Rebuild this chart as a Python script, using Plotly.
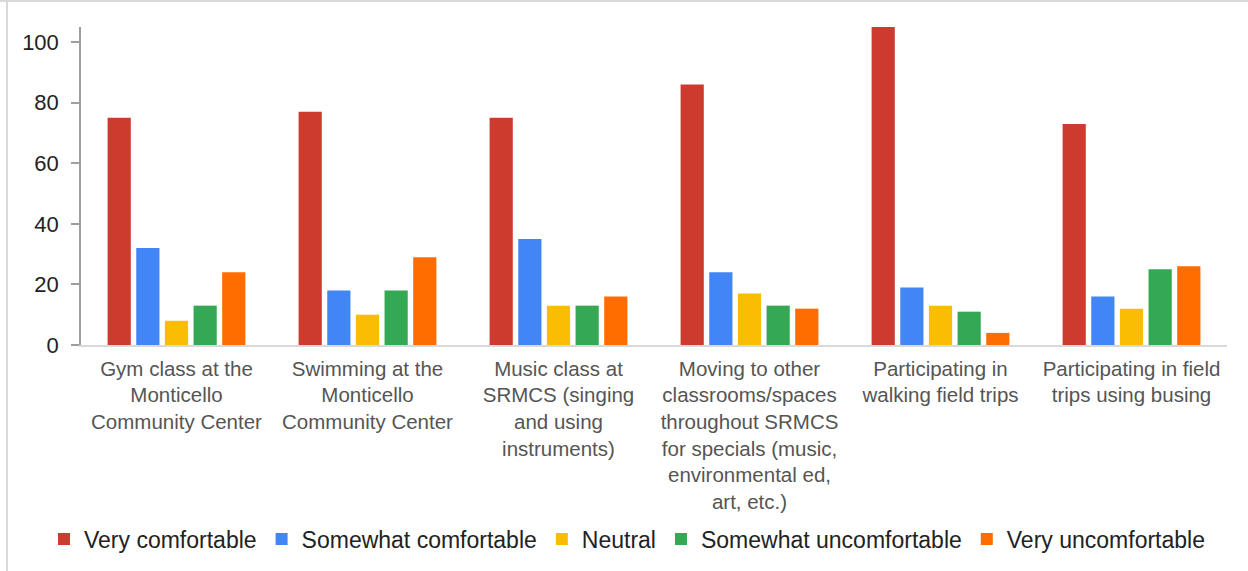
import plotly.graph_objects as go

# Survey responses: comfort level with each activity
activities = [
    "Gym class at the<br>Monticello<br>Community Center",
    "Swimming at the<br>Monticello<br>Community Center",
    "Music class at<br>SRMCS (singing<br>and using<br>instruments)",
    "Moving to other<br>classrooms/spaces<br>throughout SRMCS<br>for specials (music,<br>environmental ed,<br>art, etc.)",
    "Participating in<br>walking field trips",
    "Participating in field<br>trips using busing",
]

very_comfortable = [75, 77, 75, 86, 105, 73]
somewhat_comfortable = [32, 18, 35, 24, 19, 16]
neutral = [8, 10, 13, 17, 13, 12]
somewhat_uncomfortable = [13, 18, 13, 13, 11, 25]
very_uncomfortable = [24, 29, 16, 12, 4, 26]

series = [
    ("Very comfortable", very_comfortable, "#CD3B2F"),
    ("Somewhat comfortable", somewhat_comfortable, "#4285F4"),
    ("Neutral", neutral, "#FBBC04"),
    ("Somewhat uncomfortable", somewhat_uncomfortable, "#34A853"),
    ("Very uncomfortable", very_uncomfortable, "#FF6D01"),
]

W, H = 1248, 571
ML, MR, MT, MB = 81, 21, 27, 226
PW, PH = W - ML - MR, H - MT - MB

fig = go.Figure()
for name, vals, color in series:
    fig.add_trace(go.Bar(
        x=activities, y=vals, name=name,
        marker=dict(color=color, line=dict(width=0)),
    ))

FONT = "Arial, Liberation Sans, sans-serif"


def px_to_paper_x(px):
    return (px - ML) / PW


def px_to_paper_y(py):
    return (H - MB - py) / PH


# thin frame on the top and left edges
frame = dict(type="line", xref="paper", yref="paper",
             line=dict(color="#d9d9d9", width=2), layer="above")
shapes = [
    dict(frame, x0=px_to_paper_x(0), x1=px_to_paper_x(W),
         y0=px_to_paper_y(1), y1=px_to_paper_y(1)),
    dict(frame, x0=px_to_paper_x(7), x1=px_to_paper_x(7),
         y0=px_to_paper_y(0), y1=px_to_paper_y(H)),
]

fig.update_layout(
    width=W, height=H,
    margin=dict(l=ML, r=MR, t=MT, b=MB, pad=0, autoexpand=False),
    paper_bgcolor="white", plot_bgcolor="white",
    font=dict(family=FONT, color="#222222"),
    barmode="group", bargap=0.25, bargroupgap=0.19,
    showlegend=True,
    legend=dict(
        orientation="h", xref="paper", yref="paper",
        x=px_to_paper_x(44), xanchor="left",
        y=px_to_paper_y(539), yanchor="middle",
        font=dict(size=23, color="#222222", family=FONT),
        itemwidth=30, traceorder="normal",
    ),
    xaxis=dict(
        showline=True, linecolor="#d9d9d9", linewidth=2,
        showgrid=False, ticks="", zeroline=False, automargin=False,
        tickfont=dict(size=20.5, color="#555555", family=FONT),
        tickangle=0, ticklabelstandoff=4,
    ),
    yaxis=dict(
        range=[0, 105], dtick=20, showgrid=False, zeroline=False,
        showline=True, linecolor="#9e9e9e", linewidth=1.5, automargin=False,
        ticks="outside", ticklen=8, tickcolor="#9e9e9e", tickwidth=1.5,
        ticklabelstandoff=8,
        tickfont=dict(size=22, color="#222222", family=FONT),
    ),
    shapes=shapes,
)

fig.write_html("out.html")
